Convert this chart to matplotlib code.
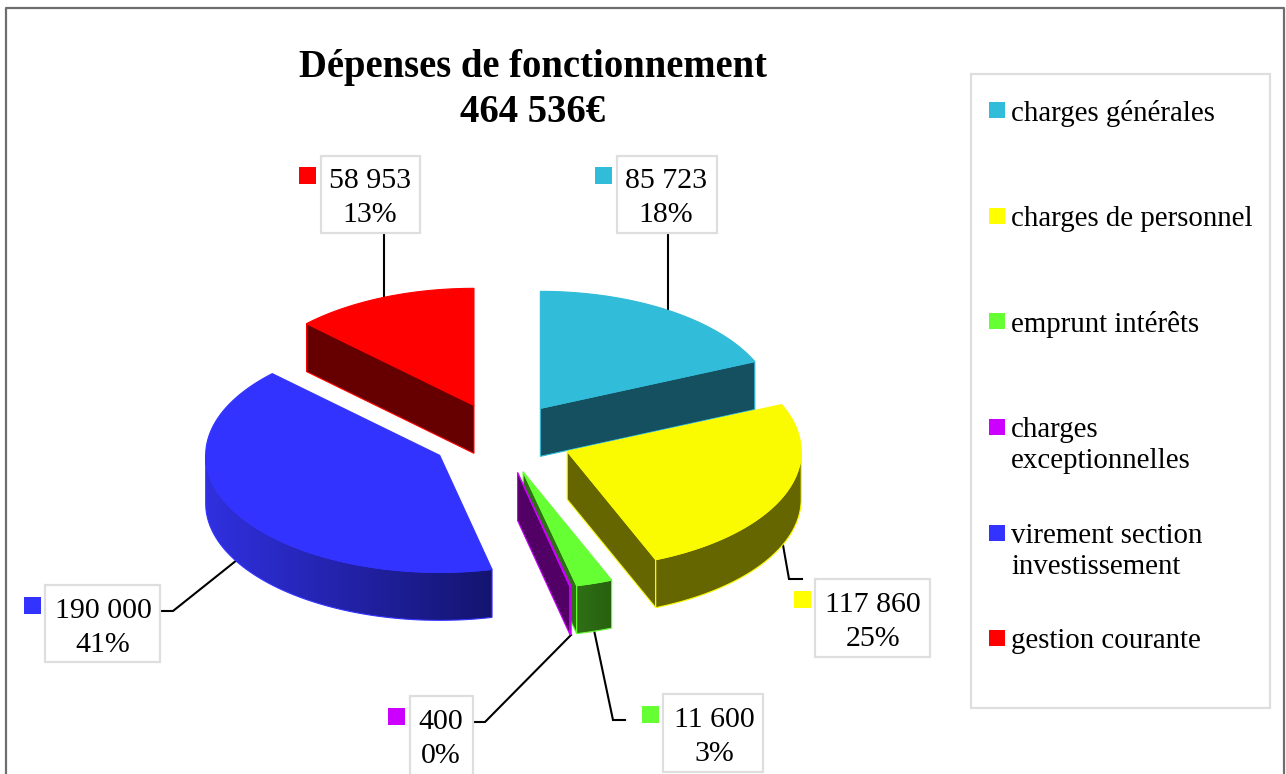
import numpy as np
import matplotlib
matplotlib.use("Agg")
import matplotlib.pyplot as plt
from matplotlib.colors import to_rgb
from matplotlib.patches import Polygon, Rectangle

plt.rcParams["font.family"] = ["Liberation Serif", "DejaVu Serif"]

TITLE = "Dépenses de fonctionnement\n464 536€"
CATEGORIES = ["charges générales", "charges de personnel", "emprunt intérêts",
              "charges\nexceptionnelles", "virement section\ninvestissement", "gestion courante"]
VALUES = [85723, 117860, 11600, 400, 190000, 58953]
VALUE_LABELS = ["85 723", "117 860", "11 600", "400", "190 000", "58 953"]
PCT_LABELS = ["18%", "25%", "3%", "0%", "41%", "13%"]
TOP_COLORS = ["#31BCD9", "#FAFA00", "#66FF33", "#CC00FF", "#3333FF", "#FF0000"]
KEY_COLORS = ["#31BCD9", "#FFFF00", "#66FF33", "#CC00FF", "#3333FF", "#FF0000"]
# rim colour at the left and right end of each slice
SIDE_LEFT = ["#14505F", "#666600", "#2F7016", "#520066", "#3030E0", "#660000"]
SIDE_RIGHT = ["#14505F", "#666600", "#28600F", "#520066", "#14146F", "#660000"]

# pie geometry, in pixels of the picture
CX, CY, RX, RY, DEPTH, EXPLODE = 501.5, 438, 234, 117, 48, 0.303

# box x0, y0, x1, y1 / text centre / key x / leader points
BOXES = [(617, 156, 717, 233), (815, 579, 930, 657), (663, 694, 763, 772),
         (410, 696, 473, 775), (45, 585, 160, 662), (321, 156, 420, 233)]
TEXT_X = [666, 873, 714, 441, 103, 370]
TEXT_Y = [178, 602, 717, 719, 608, 178]
KEY_X = [595, 794, 642, 388, 24, 299]
LEADERS = [[(668, 235), (668, 311)],
           [(783, 545), (789, 579), (802, 579)],
           [(594, 630), (613, 720), (625, 720)],
           [(571, 635), (485, 722), (473, 722)],
           [(237, 560), (173, 611), (161, 611)],
           [(384, 235), (384, 298)]]
LEGEND_Y = [112, 218, 323, 429, 535, 640]


def point(cx, cy, a, r=1.0):
    # angle a in degrees, clockwise from the top
    t = np.radians(a)
    return cx + r * RX * np.sin(t), cy - r * RY * np.cos(t)


def arc(cx, cy, a0, a1, n=120):
    a = np.linspace(a0, a1, n)
    x, y = point(cx, cy, a)
    return np.column_stack([x, y])


fig = plt.figure(figsize=(12.86, 7.74), dpi=100)
ax = fig.add_axes([0, 0, 1, 1])
ax.axis("off")

# outer frame, open at the bottom
ax.plot([6, 6, 1284, 1284], [774, 8, 8, 774], color="#6E6E6E", lw=1.6, zorder=1)

ax.text(533, 90, TITLE, ha="center", va="center", fontsize=27.8, fontweight="bold",
        linespacing=1.28, zorder=5)

edges = np.cumsum([0] + VALUES) / sum(VALUES) * 360
slices = []
for i in range(len(VALUES)):
    a0, a1 = edges[i], edges[i + 1]
    cx, cy = point(CX, CY, (a0 + a1) / 2, EXPLODE)
    slices.append((i, a0, a1, cx, cy))

# leaders go under the slices
for pts in LEADERS:
    xs, ys = zip(*pts)
    ax.plot(xs, ys, color="black", lw=1.5, zorder=2, solid_joinstyle="miter")

# back to front: red, cyan, blue, green, purple, yellow
for z, i in enumerate([5, 0, 4, 2, 3, 1]):
    _, a0, a1, cx, cy = slices[i]
    base = 3 + z * 0.1
    top = np.vstack([[cx, cy], arc(cx, cy, a0, a1)])
    edge = TOP_COLORS[i]
    # radial wall, seen on the edge facing the viewer
    wall_a = a0 if i == 5 else a1
    if i != 4:
        rim = point(cx, cy, wall_a)
        wall = [(cx, cy), rim, (rim[0], rim[1] + DEPTH), (cx, cy + DEPTH)]
        ax.add_patch(Polygon(wall, closed=True, fc=SIDE_LEFT[i], ec=edge, lw=0.8, zorder=base))
    # outer rim, front half only, shaded from left to right
    v0, v1 = max(a0, 90), min(a1, 270)
    if v1 > v0:
        a = arc(cx, cy, v0, v1)
        quad = np.vstack([a, a[::-1] + [0, DEPTH]])
        outline = Polygon(quad, closed=True, fc="none", ec=edge, lw=0.8, zorder=base + 0.01)
        ax.add_patch(outline)
        x0, x1 = quad[:, 0].min(), quad[:, 0].max()
        y0, y1 = quad[:, 1].min(), quad[:, 1].max()
        f = np.linspace(0, 1, 256)[None, :, None]
        shade = np.array(to_rgb(SIDE_LEFT[i]))[None, None, :] * (1 - f) \
            + np.array(to_rgb(SIDE_RIGHT[i]))[None, None, :] * f
        im = ax.imshow(shade, extent=(x0, x1, y1, y0), aspect="auto", zorder=base,
                       interpolation="bilinear")
        clip = Polygon(quad, closed=True, transform=ax.transData)
        im.set_clip_path(clip)
    ax.add_patch(Polygon(top, closed=True, fc=TOP_COLORS[i], ec=edge, lw=0.8, zorder=base + 0.02))

# data labels
for i in range(len(VALUES)):
    x0, y0, x1, y1 = BOXES[i]
    ax.add_patch(Rectangle((x0, y0), x1 - x0, y1 - y0, fc="white", ec="#DEDEDE", lw=1.6, zorder=4))
    ax.text(TEXT_X[i], TEXT_Y[i] + 3, VALUE_LABELS[i], ha="center", va="center", fontsize=21.5, zorder=5)
    ax.text(TEXT_X[i], TEXT_Y[i] + 37, PCT_LABELS[i], ha="center", va="center", fontsize=21.5, zorder=5)
    ax.add_patch(Rectangle((KEY_X[i], TEXT_Y[i] - 11), 17, 17, fc=KEY_COLORS[i], ec="none", zorder=5))

# legend
ax.add_patch(Rectangle((971, 74), 299, 634, fc="white", ec="#DEDEDE", lw=1.6, zorder=4))
for name, y, col in zip(CATEGORIES, LEGEND_Y, KEY_COLORS):
    ax.add_patch(Rectangle((989, y - 10), 16, 16, fc=col, ec="none", zorder=5))
    ax.text(1011, y - 12, name, ha="left", va="top", fontsize=20.8, linespacing=1.27, zorder=5)

ax.set_xlim(0, 1286)
ax.set_ylim(774, 0)
fig.savefig("out.png", dpi=100)
